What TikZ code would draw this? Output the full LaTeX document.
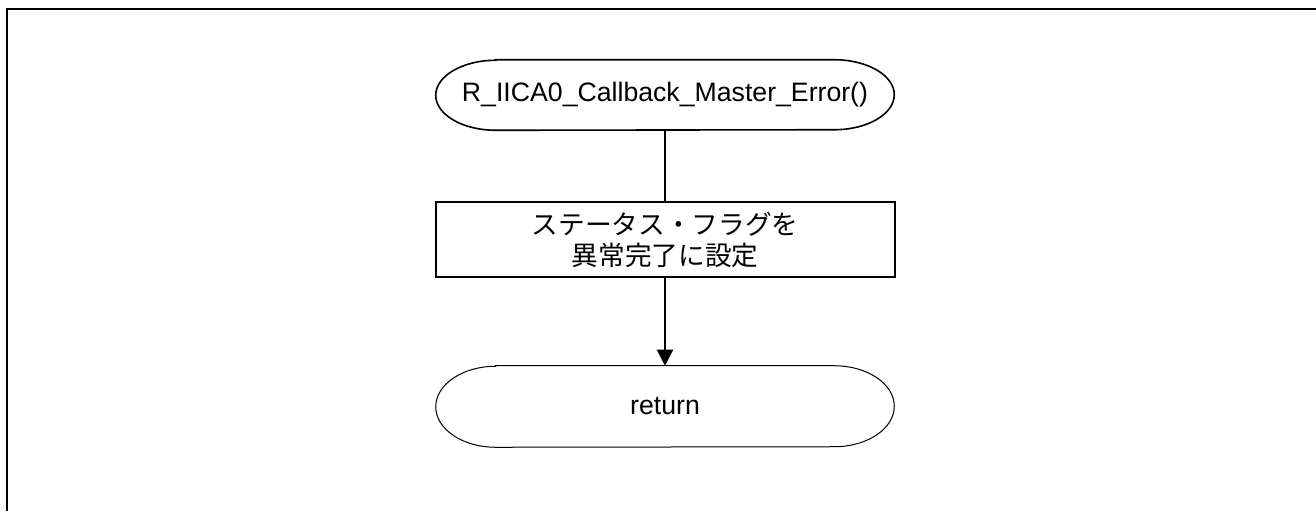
\documentclass[tikz,border=0pt]{standalone}
\usepackage{fontspec}
\setmainfont{Liberation Sans}
\newfontfamily\jpfont{Noto Sans CJK JP}
\usetikzlibrary{arrows.meta}
\begin{document}
\begin{tikzpicture}[x=0.75pt,y=-0.75pt,
  font=\fontsize{20}{23.25}\selectfont,
  termnode/.style={minimum width=343.5pt, inner sep=0pt},
  procbox/.style={draw, line width=1.5pt, minimum width=344.25pt, minimum height=56.25pt,
    inner sep=0pt, align=center, font={\fontsize{20}{23.25}\selectfont\jpfont}},
  conn/.style={line width=1.5pt},
  arrowconn/.style={conn, -{Triangle[width=12pt,length=12pt]}},
  frameline/.style={line width=1.5pt}]
\useasboundingbox (0,0) rectangle (1316,511);
\coordinate (fa) at (7,511);
\coordinate (fb) at (7,9);
\coordinate (fc) at (1316,9);
\draw[frameline] (fa) -- (fb) -- (fc);

\node[termnode, minimum height=52.5pt] (s) at (665,95) {R\_IICA0\_Callback\_Master\_Error()};
\node[procbox] (b) at (665,239.5) {ステータス・フラグを\\異常完了に設定};
\node[termnode, minimum height=60.75pt] (r) at (665,406.5) {return};

\draw[line width=1.2pt] ([xshift=45pt]s.north west) -- ([xshift=-45pt]s.north east)
  arc[start angle=90,end angle=-90,x radius=45pt,y radius=26.25pt]
  -- ([xshift=45pt]s.south west)
  arc[start angle=270,end angle=90,x radius=45pt,y radius=26.25pt] -- cycle;
\draw[line width=0.75pt] ([xshift=45pt]r.north west) -- ([xshift=-45pt]r.north east)
  arc[start angle=90,end angle=-90,x radius=45pt,y radius=30.375pt]
  -- ([xshift=45pt]r.south west)
  arc[start angle=270,end angle=90,x radius=45pt,y radius=30.375pt] -- cycle;

\draw[conn] (s.south) -- (b.north);
\draw[arrowconn] (b.south) -- (r.north);
\end{tikzpicture}
\end{document}
